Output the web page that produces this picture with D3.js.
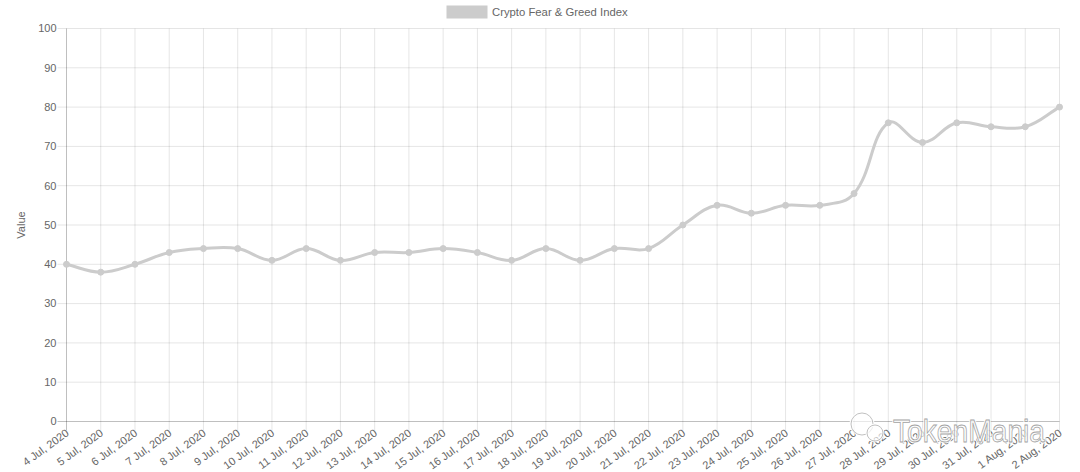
<!DOCTYPE html>
<html><head><meta charset="utf-8">
<script src="https://cdn.jsdelivr.net/npm/d3@7"></script>
<style>body{margin:0;background:#fff;} svg text{font-family:"Liberation Sans",Arial,sans-serif;}</style>
</head><body><svg id="c" width="1080" height="472"></svg>
<script>
const categories = ["4 Jul, 2020","5 Jul, 2020","6 Jul, 2020","7 Jul, 2020","8 Jul, 2020","9 Jul, 2020","10 Jul, 2020","11 Jul, 2020","12 Jul, 2020","13 Jul, 2020","14 Jul, 2020","15 Jul, 2020","16 Jul, 2020","17 Jul, 2020","18 Jul, 2020","19 Jul, 2020","20 Jul, 2020","21 Jul, 2020","22 Jul, 2020","23 Jul, 2020","24 Jul, 2020","25 Jul, 2020","26 Jul, 2020","27 Jul, 2020","28 Jul, 2020","29 Jul, 2020","30 Jul, 2020","31 Jul, 2020","1 Aug, 2020","2 Aug, 2020"];
const values = [40,38,40,43,44,44,41,44,41,43,43,44,43,41,44,41,44,44,50,55,53,55,55,58,76,71,76,75,75,80];
const yTicks = [0,10,20,30,40,50,60,70,80,90,100];
const seriesName = "Crypto Fear & Greed Index";

const svg = d3.select("#c");
const L = 66.5, R = 1059.5, T = 28.5, B = 421.5;
const x = d3.scalePoint().domain(categories).range([L, R]);
const y = d3.scaleLinear().domain([0, 100]).range([B, T]);
const txt = "#666";
const fs = 11;

// grid
const g = svg.append("g");
g.selectAll(".hg").data(yTicks).join("line")
  .attr("x1", L - 9).attr("x2", R).attr("y1", d => y(d)).attr("y2", d => y(d))
  .attr("stroke", d => d === 0 ? "rgba(0,0,0,0.25)" : "rgba(0,0,0,0.1)");
g.selectAll(".vg").data(categories).join("line")
  .attr("x1", d => x(d)).attr("x2", d => x(d)).attr("y1", T).attr("y2", B + 9)
  .attr("stroke", (d, i) => i === 0 ? "rgba(0,0,0,0.25)" : "rgba(0,0,0,0.1)");

// y labels
g.selectAll(".yl").data(yTicks).join("text")
  .attr("x", L - 10).attr("y", d => y(d)).attr("dy", "0.35em")
  .attr("text-anchor", "end").attr("font-size", fs).attr("fill", txt).text(d => d);
svg.append("text").attr("transform", `translate(25,${(T+B)/2}) rotate(-90)`)
  .attr("text-anchor", "middle").attr("font-size", fs).attr("fill", txt).text("Value");

// x labels
g.selectAll(".xl").data(categories).join("text")
  .attr("transform", d => `translate(${x(d) + 1},${B + 10}) rotate(-36)`)
  .attr("dy", "0.35em")
  .attr("text-anchor", "end").attr("font-size", fs).attr("fill", txt).text(d => d);

// legend
svg.append("rect").attr("x", 447).attr("y", 6).attr("width", 40).attr("height", 12)
  .attr("fill", "#cccccc").attr("stroke", "#cccccc").attr("stroke-width", 1);
svg.append("text").attr("x", 492).attr("y", 12).attr("dy", "0.35em")
  .attr("font-size", 11.3).attr("fill", txt).text(seriesName);

// Chart.js-style spline
const pts = categories.map((c, i) => ({x: x(c), y: y(values[i])}));
const tension = 0.4;
pts.forEach((p, i) => {
  const prev = pts[i - 1] || p, next = pts[i + 1] || p;
  const d01 = Math.hypot(p.x - prev.x, p.y - prev.y);
  const d12 = Math.hypot(next.x - p.x, next.y - p.y);
  let s01 = d01 / (d01 + d12), s12 = d12 / (d01 + d12);
  if (isNaN(s01)) s01 = 0; if (isNaN(s12)) s12 = 0;
  const fa = tension * s01, fb = tension * s12;
  p.cpPrev = {x: p.x - fa * (next.x - prev.x), y: p.y - fa * (next.y - prev.y)};
  p.cpNext = {x: p.x + fb * (next.x - prev.x), y: p.y + fb * (next.y - prev.y)};
});
const path = d3.path();
path.moveTo(pts[0].x, pts[0].y);
for (let i = 1; i < pts.length; i++) {
  const a = pts[i - 1], b = pts[i];
  path.bezierCurveTo(a.cpNext.x, a.cpNext.y, b.cpPrev.x, b.cpPrev.y, b.x, b.y);
}
svg.append("path").attr("d", path.toString()).attr("fill", "none")
  .attr("stroke", "#cccccc").attr("stroke-width", 3);
svg.selectAll(".pt").data(pts).join("circle")
  .attr("cx", d => d.x).attr("cy", d => d.y).attr("r", 3)
  .attr("fill", "#cccccc").attr("stroke", "#cccccc").attr("stroke-width", 1);

// watermark
const wm = svg.append("g").attr("opacity", 0.9);
[[862, 424, 11], [875, 433, 8]].forEach(([cx, cy, r]) => {
  wm.append("circle").attr("cx", cx).attr("cy", cy).attr("r", r).attr("fill", "rgba(255,255,255,0.7)").attr("stroke", "#fff").attr("stroke-width", 3);
  wm.append("circle").attr("cx", cx).attr("cy", cy).attr("r", r).attr("fill", "none").attr("stroke", "#bbb").attr("stroke-width", 1);
});
["#fff", "#999"].forEach((c, i) => {
  wm.append("text").attr("x", 893).attr("y", 442).attr("font-size", 31)
    .attr("textLength", 152).attr("lengthAdjust", "spacingAndGlyphs")
    .attr("fill", i ? "rgba(255,255,255,0.6)" : "none").attr("stroke", c).attr("stroke-width", i ? 0.8 : 3).text("TokenMania");
});
</script></body></html>
